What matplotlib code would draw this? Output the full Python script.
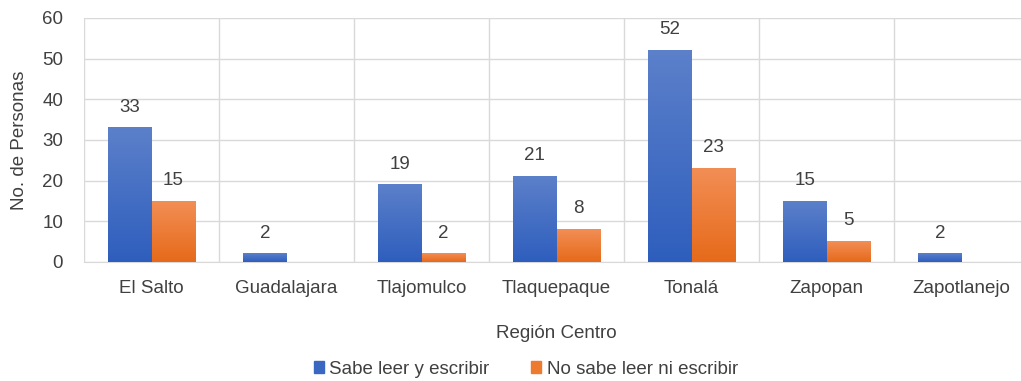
import matplotlib
matplotlib.use("Agg")
import matplotlib.pyplot as plt
import numpy as np
from matplotlib.colors import LinearSegmentedColormap
from matplotlib.patches import Patch

categories = ["El Salto", "Guadalajara", "Tlajomulco", "Tlaquepaque", "Tonalá", "Zapopan", "Zapotlanejo"]
sabe = [33, 2, 19, 21, 52, 15, 2]
no_sabe = [15, 0, 2, 8, 23, 5, 0]
series_names = ["Sabe leer y escribir", "No sabe leer ni escribir"]

plt.rcParams['font.family'] = ['Liberation Sans', 'DejaVu Sans']
txt = '#404040'
fs = 13.5

fig = plt.figure(figsize=(10.21, 3.81), dpi=100)
ax = fig.add_axes([84/1021, 119/381, 945/1021, 244/381])

x = np.arange(len(categories))
w = 0.32
blue_cmap = LinearSegmentedColormap.from_list('b', ['#2E5EBD', '#5C80CA'])
orange_cmap = LinearSegmentedColormap.from_list('o', ['#E66A1A', '#F28E55'])
grad = np.linspace(0, 1, 256).reshape(-1, 1)

for vals, off, cmap, base in [(sabe, -w/2, blue_cmap, '#3A67C2'), (no_sabe, w/2, orange_cmap, '#EE7A30')]:
    bars = ax.bar(x + off, vals, width=w, color=base, zorder=2)
    for b, v in zip(bars, vals):
        if v <= 0:
            continue
        x0 = b.get_x()
        ax.imshow(grad, extent=[x0, x0 + w, 0, v], origin='lower', aspect='auto',
                  cmap=cmap, zorder=3, interpolation='bilinear')
        ax.text(x0 + w/2, v + 3, f"{v}", ha='center', va='bottom', fontsize=fs, color=txt, zorder=4)

ax.set_xlim(-0.5, len(categories) - 0.5)
ax.set_ylim(0, 60)
ax.set_yticks(range(0, 61, 10))
ax.set_xticks(x)
ax.set_xticklabels(categories)
ax.tick_params(axis='both', length=0, labelsize=fs, colors=txt)
ax.tick_params(axis='x', pad=13)
ax.tick_params(axis='y', pad=15)
ax.set_xticks(np.arange(-0.5, len(categories), 1), minor=True)
ax.grid(axis='y', color='#D9D9D9', lw=1, zorder=0)
ax.grid(axis='x', which='minor', color='#D9D9D9', lw=1, zorder=0)
ax.grid(axis='x', which='major', visible=False)
ax.tick_params(axis='x', which='minor', length=0)
for s in ['top', 'right', 'left']:
    ax.spines[s].set_visible(False)
ax.spines['bottom'].set_color('#D9D9D9')
ax.set_ylabel("No. de Personas", fontsize=fs, color=txt, labelpad=10)
ax.set_xlabel("Región Centro", fontsize=fs, color=txt, labelpad=20)

handles = [Patch(color='#3A67C2'), Patch(color='#EE7A30')]
fig.legend(handles, series_names, loc='center', bbox_to_anchor=(0.515, 1 - 369/381), ncol=2,
           frameon=False, fontsize=fs, labelcolor=txt, handlelength=0.55, handleheight=0.55,
           handletextpad=0.3, columnspacing=2.2)

fig.savefig("out.png", dpi=100)
